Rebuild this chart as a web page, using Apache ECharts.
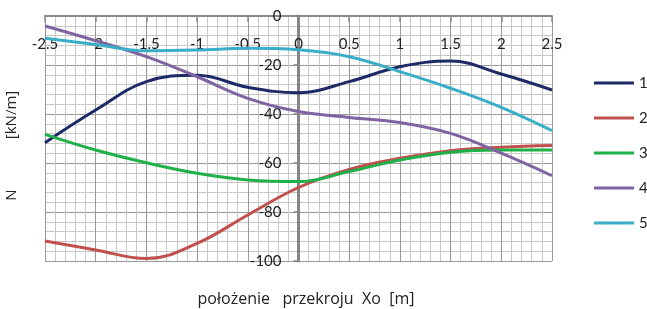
<!DOCTYPE html>
<html>
<head>
<meta charset="utf-8">
<script src="https://cdn.jsdelivr.net/npm/echarts@6/dist/echarts.min.js"></script>
<style>
html, body { margin: 0; padding: 0; background: #fff; }
#chart { width: 647px; height: 309px; }
</style>
</head>
<body>
<div id="chart"></div>
<script>
// położenie przekroju Xo [m]
var xValues = [-2.5, -2, -1.5, -1, -0.5, 0, 0.5, 1, 1.5, 2, 2.5];
var seriesNames = ['1', '2', '3', '4', '5'];
var colors = ['#1e2a66', '#c0504d', '#20b04a', '#8064a2', '#3aaec8'];

var s1 = [-51.7, -38.4, -26.8, -24.2, -29.1, -31.3, -26.8, -20.7, -18.4, -23.7, -30.2];
var s2 = [-91.8, -95.5, -99.0, -92.8, -81.2, -70.0, -62.6, -58.1, -55.0, -53.6, -52.9];
var s3 = [-48.3, -54.7, -59.9, -64.2, -66.9, -67.6, -63.5, -58.8, -55.6, -54.7, -54.7];
var s4 = [-4.1, -10.1, -16.6, -24.8, -33.6, -39.0, -41.4, -43.5, -47.9, -56.0, -65.2];
var s5 = [-9.1, -11.6, -14.2, -13.9, -13.2, -13.8, -16.6, -22.7, -29.5, -37.3, -46.8];

var yTicks = [0, -20, -40, -60, -80, -100];

var font = 'Lato, "Liberation Sans", sans-serif';
var nameFont = '"Open Sans", Lato, sans-serif';

var myChart = echarts.init(document.getElementById('chart'));

function pairs(ys) {
	var out = [];
	for (var i = 0; i < xValues.length; i++) {
		out.push([xValues[i], ys[i]]);
	}
	return out;
}

var allY = [s1, s2, s3, s4, s5];
var series = [];
for (var k = 0; k < allY.length; k++) {
	series.push({
		name: seriesNames[k],
		type: 'line',
		data: pairs(allY[k]),
		smooth: 0.4,
		showSymbol: false,
		symbol: 'none',
		lineStyle: { color: colors[k], width: 3 },
		itemStyle: { color: colors[k] }
	});
}

var gridLeft = 45, gridRight = 95;
var plotW = 647 - gridLeft - gridRight;
// y axis sits on x = 0, in the middle of the plot
var yOffset = -plotW * 2.5 / 5;

var option = {
	animation: false,
	textStyle: { fontFamily: font },
	grid: {
		left: gridLeft,
		right: gridRight,
		top: 16,
		bottom: 48,
		containLabel: false
	},
	legend: {
		orient: 'vertical',
		left: 594,
		top: 73,
		padding: 0,
		itemWidth: 40,
		itemHeight: 3,
		itemGap: 15,
		icon: 'rect',
		data: seriesNames,
		textStyle: { fontSize: 15, color: '#222', lineHeight: 20, fontFamily: font }
	},
	xAxis: {
		type: 'value',
		position: 'top',
		min: -2.5,
		max: 2.5,
		interval: 0.5,
		axisLine: { onZero: false, lineStyle: { color: '#8a8a8a', width: 2 } },
		axisTick: { show: true, inside: true, length: 6, lineStyle: { color: '#8a8a8a', width: 1.5 } },
		axisLabel: {
			inside: true,
			margin: 21,
			fontSize: 15,
			color: '#222',
			showMinLabel: true,
			showMaxLabel: true
		},
		splitLine: { show: true, lineStyle: { color: '#999', width: 1 } },
		minorTick: { show: false, splitNumber: 5 },
		minorSplitLine: { show: true, lineStyle: { color: '#c8c8c8', width: 1 } }
	},
	yAxis: {
		type: 'value',
		position: 'left',
		offset: yOffset,
		min: -100,
		max: 0,
		interval: 20,
		axisLine: { show: true, onZero: false, lineStyle: { color: '#858585', width: 3 } },
		axisTick: { show: true, length: 5, lineStyle: { color: '#858585', width: 1.5 } },
		axisLabel: {
			margin: 17,
			fontSize: 15,
			color: '#222',
			formatter: function (v) { return yTicks.indexOf(v) >= 0 ? String(v) : ''; }
		},
		splitLine: { show: true, lineStyle: { color: '#999', width: 1 } },
		minorTick: { show: false, splitNumber: 5 },
		minorSplitLine: { show: true, lineStyle: { color: '#c8c8c8', width: 1 } }
	},
	graphic: [
		{
			type: 'text',
			x: 306,
			y: 299,
			style: {
				text: 'położenie   przekroju  Xo  [m]',
				font: '16px ' + nameFont,
				fill: '#222',
				align: 'center',
				verticalAlign: 'middle'
			}
		},
		{
			type: 'text',
			x: 12,
			y: 195,
			rotation: Math.PI / 2,
			style: {
				text: 'N',
				font: '15px ' + nameFont,
				fill: '#222',
				align: 'center',
				verticalAlign: 'middle'
			}
		},
		{
			type: 'text',
			x: 12,
			y: 115,
			rotation: Math.PI / 2,
			style: {
				text: '[kN/m]',
				font: '15px ' + nameFont,
				fill: '#222',
				align: 'center',
				verticalAlign: 'middle'
			}
		}
	],
	series: series
};

myChart.setOption(option);
</script>
</body>
</html>
